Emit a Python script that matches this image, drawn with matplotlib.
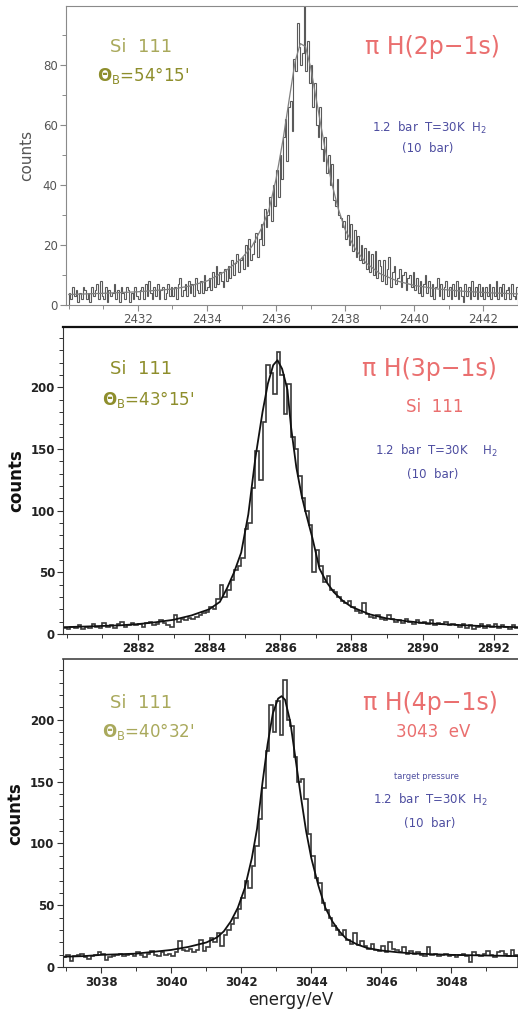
import numpy as np
import matplotlib
matplotlib.use("Agg")
import matplotlib.pyplot as plt
from matplotlib.ticker import MultipleLocator

plt.rcParams['font.family'] = ['DejaVu Sans']
plt.rcParams['mathtext.fontset'] = 'dejavusans'

# ---- panel 1 : pi H(2p-1s), bins of 0.05 eV starting at 2430.0
e1_start = 2430.0
e1_step = 0.05
counts1 = [
    4, 2, 6, 3, 5, 1, 4, 2, 6, 5, 2, 4, 1, 6, 3, 5, 7, 2, 8, 3,
    2, 6, 1, 5, 3, 4, 7, 2, 5, 1, 6, 4, 2, 6, 5, 1, 4, 2, 6, 3,
    2, 5, 6, 2, 7, 3, 8, 4, 2, 6, 3, 7, 2, 5, 6, 2, 4, 7, 3, 6,
    3, 6, 2, 7, 9, 3, 5, 7, 3, 8, 4, 7, 3, 9, 5, 4, 8, 4, 10, 5,
    6, 9, 5, 11, 6, 13, 7, 11, 8, 6, 12, 8, 13, 9, 15, 10, 14, 17, 11, 15,
    16, 12, 20, 13, 22, 15, 17, 21, 24, 16,
    22, 27, 20, 32, 26, 30, 36, 28, 40, 33,
    45, 36, 50, 42, 56, 62, 48, 66, 68, 58,
    82, 78, 94, 86, 80, 84, 106, 78, 88, 74,
    80, 66, 74, 60, 56, 66, 52, 48, 56, 44,
    50, 40, 47, 35, 33, 42, 30, 29, 26, 28,
    22, 30, 20, 27, 18, 25, 16, 23, 15, 20,
    14, 19, 12, 18, 11, 17, 10, 18, 9, 15,
    13, 8, 15, 7, 12, 16, 6, 11, 13, 7, 9, 12, 6, 10, 11, 5, 9, 10, 6, 11,
    5, 9, 4, 8, 3, 7, 10, 4, 8, 3, 7, 2, 6, 9, 3, 7, 2, 6, 8, 3,
    6, 2, 7, 3, 8, 2, 6, 3, 1, 7, 3, 6, 2, 8, 3, 6, 2, 7, 3, 6,
    2, 6, 3, 7, 2, 6, 3, 8, 2, 6, 3, 7, 2, 5, 6, 2, 7, 3, 2, 6,
]
fit1_x = [2430, 2431, 2432, 2433, 2433.5, 2434, 2434.5, 2435, 2435.3, 2435.6,
          2435.8, 2436.0, 2436.2, 2436.4, 2436.55, 2436.7, 2436.85, 2437.0,
          2437.2, 2437.4, 2437.6, 2437.8, 2438.0, 2438.3, 2438.6, 2439.0,
          2439.5, 2440, 2440.7, 2441.5, 2442.3, 2443]
fit1_y = [3.5, 3.9, 4.4, 5.3, 6.3, 8, 11, 15.5, 19.5, 26,
          32, 42, 55, 70, 81, 87, 86, 79,
          66, 53, 41, 32, 25, 18.5, 14, 10.5,
          8, 6.5, 5.3, 4.5, 4, 3.7]
xt1 = [2432, 2434, 2436, 2438, 2440, 2442]

# ---- panel 2 : pi H(3p-1s), bins of 0.1 eV starting at 2879.9
e2_start = 2879.9
e2_step = 0.1
counts2 = [
    5, 4, 6, 5, 7, 4, 6, 5, 8, 6,
    5, 9, 6, 7, 5, 8, 10, 6, 7, 9,
    7, 8, 6, 9, 10, 7, 8, 11, 9, 7,
    6, 15, 10, 12, 11, 13, 12, 14, 15, 17,
    18, 22, 20, 28, 40, 30, 36, 44, 52, 55,
    62, 85, 90, 118, 148, 125, 172, 218, 212, 195,
    229, 210, 178, 203, 160, 150, 128, 110, 100, 88,
    50, 68, 55, 42, 47, 36, 34, 30, 27, 25,
    27, 22, 19, 17, 25, 16, 14, 13, 15, 12,
    11, 15, 12, 10, 11, 9, 12, 10, 8, 11,
    9, 10, 8, 11, 7, 9, 8, 10, 7, 8,
    7, 6, 8, 5, 7, 4, 6, 8, 5, 7,
    6, 8, 5, 7, 6, 4, 7, 5,
]
fit2_x = [2879.9, 2880.5, 2881, 2881.5, 2882, 2882.5, 2883, 2883.5, 2884, 2884.3,
          2884.5, 2884.7, 2884.9, 2885.1, 2885.3, 2885.5, 2885.65, 2885.8, 2885.92,
          2886.05, 2886.2, 2886.3, 2886.45, 2886.6, 2886.7, 2886.9, 2887.1, 2887.3,
          2887.5, 2887.75, 2888, 2888.5, 2889, 2889.5, 2890, 2890.5, 2891, 2891.5,
          2892, 2892.7]
fit2_y = [5.5, 6, 6.5, 7, 8, 9.5, 11.5, 15, 20, 26,
          37, 50, 66, 97, 143, 180, 203, 218, 222,
          215, 198, 168, 135, 112, 100, 78, 53, 42,
          34, 27, 22, 16, 12.5, 10.5, 9, 8, 7.3, 6.6,
          6, 5.5]
xt2 = [2882, 2884, 2886, 2888, 2890, 2892]

# ---- panel 3 : pi H(4p-1s), bins of 0.1 eV starting at 3036.8
e3_start = 3036.8
e3_step = 0.1
counts3 = [
    9, 8, 10, 5, 9, 10, 11, 8, 7, 9,
    10, 12, 11, 6, 8, 9, 10, 11, 9, 10,
    11, 9, 12, 10, 8, 11, 13, 10, 9, 12,
    10, 11, 9, 12, 21, 14, 13, 15, 12, 14,
    22, 13, 16, 24, 20, 28, 17, 26, 30, 35,
    40, 47, 56, 70, 64, 82, 98, 120, 145, 175,
    212, 190, 215, 188, 232, 200, 195, 170, 150, 152,
    136, 108, 90, 72, 68, 52, 46, 40, 33, 30,
    26, 30, 22, 19, 28, 18, 21, 17, 15, 19,
    14, 13, 17, 12, 20, 15, 14, 12, 16, 11,
    13, 11, 12, 10, 9, 16, 10, 11, 9, 10,
    11, 9, 10, 8, 10, 11, 9, 4, 12, 10,
    9, 11, 13, 10, 8, 12, 13, 11, 9, 14,
    10,
]
fit3_x = [3036.9, 3037.5, 3038, 3038.5, 3039, 3039.5, 3040, 3040.5, 3041, 3041.3,
          3041.5, 3041.7, 3041.9, 3042.1, 3042.3, 3042.45, 3042.6, 3042.75, 3042.9,
          3043.05, 3043.15, 3043.25, 3043.4, 3043.55, 3043.7, 3043.85, 3044.0,
          3044.2, 3044.4, 3044.6, 3044.8, 3045, 3045.3, 3045.6, 3046, 3046.5,
          3047, 3048, 3049, 3049.9]
fit3_y = [8.5, 9, 10, 10.5, 11, 12.5, 14, 16.5, 20, 24,
          29, 37, 48, 64, 88, 112, 148, 180, 205,
          217, 219, 216, 198, 168, 138, 110, 88,
          66, 48, 37, 29, 23, 18.5, 15.5, 13.5, 12,
          11, 10, 9.5, 9]
xt3 = [3038, 3040, 3042, 3044, 3046, 3048]

olive_light = '#a9a95c'
olive = '#8e8e2c'
pink = '#ea6f6f'
blue = '#4d4da0'

fig = plt.figure(figsize=(5.18, 10.14), dpi=100)


def style_axes(ax, xlim, ylim, xticks, ymajor, ycolor, bold, spine_color):
    ax.set_xlim(*xlim)
    ax.set_ylim(*ylim)
    ax.set_xticks(xticks)
    ax.set_xticklabels([str(t) for t in xticks])
    ax.xaxis.set_minor_locator(MultipleLocator(1))
    ax.yaxis.set_major_locator(MultipleLocator(ymajor))
    ax.yaxis.set_minor_locator(MultipleLocator(10))
    ax.spines['right'].set_visible(False)
    for s in ['left', 'bottom', 'top']:
        ax.spines[s].set_color(spine_color)
    ax.tick_params(which='major', direction='out', length=4, width=0.8,
                   color=spine_color, labelsize=8.5, labelcolor=ycolor, pad=2)
    ax.tick_params(which='minor', direction='out', length=3, width=0.7,
                   color=spine_color)
    for lab in ax.get_xticklabels() + ax.get_yticklabels():
        lab.set_fontweight('bold' if bold else 'normal')


# ---------------- panel 1
ax1 = fig.add_axes([0.1274, 0.6992, 0.8726, 0.2949])
edges1 = e1_start + e1_step * np.arange(len(counts1) + 1)
ax1.stairs(counts1, edges1, color='#5a5a5a', lw=0.8)
ax1.plot(fit1_x, fit1_y, color='#808080', lw=0.9)
style_axes(ax1, (2429.92, 2443), (0, 99.5), xt1, 20, '#555555', False, '#8a8a8a')
ax1.set_ylabel('counts', fontsize=11, color='#555555', labelpad=6)

ax1.text(0.166, 0.863, 'Si  111', transform=ax1.transAxes, ha='center',
         va='center', fontsize=13, color=olive_light)
ax1.text(0.17, 0.767, r"$\mathbf{\Theta}_{\mathrm{B}}$=54°15'", transform=ax1.transAxes,
         ha='center', va='center', fontsize=12, color=olive)
ax1.text(0.81, 0.863, 'π H(2p−1s)', transform=ax1.transAxes, ha='center',
         va='center', fontsize=17, color=pink)
ax1.text(0.805, 0.592, r'1.2  bar  T=30K  H$_2$', transform=ax1.transAxes,
         ha='center', va='center', fontsize=8.5, color=blue)
ax1.text(0.80, 0.522, '(10  bar)', transform=ax1.transAxes, ha='center',
         va='center', fontsize=8.5, color=blue)

# ---------------- panel 2
ax2 = fig.add_axes([0.1222, 0.3748, 0.8778, 0.3028])
edges2 = e2_start + e2_step * np.arange(len(counts2) + 1)
ax2.stairs(counts2, edges2, color='#3a3a3a', lw=1.2)
ax2.plot(fit2_x, fit2_y, color='#111111', lw=1.3)
style_axes(ax2, (2879.9, 2892.68), (0, 249), xt2, 50, '#222222', True, '#333333')
ax2.spines['top'].set_linewidth(1.6)
ax2.spines['top'].set_color('#111111')
ax2.set_ylabel('counts', fontsize=12, fontweight='bold', color='#111111', labelpad=4)

ax2.text(0.172, 0.862, 'Si  111', transform=ax2.transAxes, ha='center',
         va='center', fontsize=13, color=olive)
ax2.text(0.186, 0.762, r"$\mathbf{\Theta}_{\mathrm{B}}$=43°15'", transform=ax2.transAxes,
         ha='center', va='center', fontsize=12, color=olive)
ax2.text(0.806, 0.862, 'π H(3p−1s)', transform=ax2.transAxes, ha='center',
         va='center', fontsize=17, color=pink)
ax2.text(0.817, 0.738, 'Si  111', transform=ax2.transAxes, ha='center',
         va='center', fontsize=12, color=pink)
ax2.text(0.821, 0.597, r'1.2  bar  T=30K    H$_2$', transform=ax2.transAxes,
         ha='center', va='center', fontsize=8.5, color=blue)
ax2.text(0.813, 0.52, '(10  bar)', transform=ax2.transAxes, ha='center',
         va='center', fontsize=8.5, color=blue)

# ---------------- panel 3
ax3 = fig.add_axes([0.121, 0.0461, 0.879, 0.304])
edges3 = e3_start + e3_step * np.arange(len(counts3) + 1)
ax3.stairs(counts3, edges3, color='#3a3a3a', lw=1.2)
ax3.plot(fit3_x, fit3_y, color='#111111', lw=1.3)
style_axes(ax3, (3036.9, 3049.9), (0, 249), xt3, 50, '#222222', True, '#333333')
ax3.spines['top'].set_linewidth(1.2)
ax3.spines['top'].set_color('#444444')
ax3.set_ylabel('counts', fontsize=12, fontweight='bold', color='#111111', labelpad=4)
ax3.set_xlabel('energy/eV', fontsize=12, color='#222222', labelpad=2)

ax3.text(0.173, 0.856, 'Si  111', transform=ax3.transAxes, ha='center',
         va='center', fontsize=13, color=olive_light)
ax3.text(0.187, 0.764, r"$\mathbf{\Theta}_{\mathrm{B}}$=40°32'", transform=ax3.transAxes,
         ha='center', va='center', fontsize=12, color=olive_light)
ax3.text(0.807, 0.856, 'π H(4p−1s)', transform=ax3.transAxes, ha='center',
         va='center', fontsize=17, color=pink)
ax3.text(0.814, 0.764, '3043  eV', transform=ax3.transAxes, ha='center',
         va='center', fontsize=12, color=pink)
ax3.text(0.80, 0.62, 'target pressure', transform=ax3.transAxes, ha='center',
         va='center', fontsize=6, color=blue)
ax3.text(0.807, 0.543, r'1.2  bar  T=30K  H$_2$', transform=ax3.transAxes,
         ha='center', va='center', fontsize=8.5, color=blue)
ax3.text(0.807, 0.467, '(10  bar)', transform=ax3.transAxes, ha='center',
         va='center', fontsize=8.5, color=blue)

fig.savefig('out.png', dpi=100)
